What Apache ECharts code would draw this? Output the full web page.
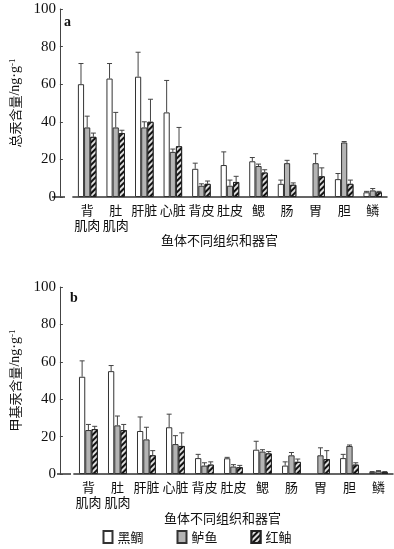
<!DOCTYPE html>
<html><head><meta charset="utf-8">
<script src="https://cdn.jsdelivr.net/npm/echarts@6/dist/echarts.min.js"></script>
<style>html,body{margin:0;padding:0;background:#fff}#c{width:394px;height:549px}</style>
</head><body><div id="c"></div>
<script>
var categories = ['背\n肌肉','肚\n肌肉','肝脏','心脏','背皮','肚皮','鳃','肠','胃','胆','鳞'];
var seriesNames = ['黑鲷','鲈鱼','红鲉'];
var yTicks = [0,20,40,60,80,100];
// Panel a: total mercury (ng/g)
var aHeidiao = [60, 63, 64, 45, 15, 17, 19, 7, null, 9.5, 2.5];
var aLuyu    = [37, 37, 37, 24, 6, 6, 16.5, 18, 18, 29, 3.5];
var aHongyou = [32, 34, 40, 27, 7, 8, 13, 6.5, 11, 7, 2.5];
var aHeidiaoErr = [11, 8, 13, 17, 3, 7, 2, 2, null, 3, 0.5];
var aLuyuErr    = [6, 8, 3, 1.5, 1, 3, 1, 1.5, 5, 0.5, 1];
var aHongyouErr = [2, 1.5, 12, 10, 1.5, 3, 1.5, 1, 4.5, 2, 0.5];
// Panel b: methylmercury (ng/g)
var bHeidiao = [52, 55, 23, 25, 8.5, 8.4, 13, 4.5, null, 8.5, 1];
var bLuyu    = [23.5, 26, 18.5, 16, 4.5, 4, 12, 10, 10, 15, 1.5];
var bHongyou = [24, 23.5, 10, 15, 5, 3.6, 11, 6.5, 8, 5, 1];
var bHeidiaoErr = [8.5, 3, 7.5, 7, 2, 0.5, 4.5, 2, null, 2, 0.3];
var bLuyuErr    = [3, 5, 6.5, 4.5, 1.5, 1, 1, 1.5, 4, 0.5, 0.3];
var bHongyouErr = [1.5, 3, 2.5, 7, 1.5, 1, 1, 1.5, 4.5, 1, 0.3];

var CAT_GAP = 0.35;
var FONT_CJK = '"Noto Sans CJK SC", sans-serif';
var FONT_NUM = '"Liberation Serif", serif';

var styles = [
  {color:'#ffffff', borderColor:'#333', borderWidth:1},
  {color:'#b4b4b4', borderColor:'#333', borderWidth:1},
  {color:'#ffffff', borderColor:'#222', borderWidth:1,
   decal:{symbol:'rect', symbolSize:1, dashArrayX:[[1,0]], dashArrayY:[2,2], rotation:-Math.PI/4, color:'#111', backgroundColor:'#ddd'}}
];

function errSeries(gi, k, vals, errs){
  var data = vals.map(function(v,i){ return (v==null||errs[i]==null)?[i,null,null]:[i,v,errs[i]]; });
  return {
    type:'custom', xAxisIndex:gi, yAxisIndex:gi, silent:true, z:5,
    data:data,
    encode:{x:0,y:1},
    renderItem:function(params, api){
      var v = api.value(1);
      if (v == null || isNaN(v)) return;
      var x = api.value(0), e = api.value(2);
      var bw = api.size([1,0])[0];
      var barW = bw*(1-CAT_GAP)/3;
      var off = (k-1)*barW;
      var p0 = api.coord([x, v]);
      var p1 = api.coord([x, v+e]);
      var cx = p0[0]+off;
      var st = {stroke:'#444', lineWidth:1};
      return {type:'group', children:[
        {type:'line', shape:{x1:cx,y1:p0[1],x2:cx,y2:p1[1]}, style:st},
        {type:'line', shape:{x1:cx-2.5,y1:p1[1],x2:cx+2.5,y2:p1[1]}, style:st}
      ]};
    }
  };
}
function barSeries(gi, k, vals){
  return {type:'bar', name:seriesNames[k], xAxisIndex:gi, yAxisIndex:gi, data:vals,
    barGap:'0%', barCategoryGap:(CAT_GAP*100)+'%', itemStyle:styles[k]};
}
function xAx(gi, padR, gap){
  return {type:'category', gridIndex:gi, data:categories,
    axisLine:{lineStyle:{color:'#333', width:1.5}}, axisTick:{show:false},
    axisLabel:{interval:0, margin:6, fontFamily:FONT_CJK, fontSize:13, color:'#111', lineHeight:15},
    name:'鱼体不同组织和器官', nameLocation:'middle', nameGap:gap,
    nameTextStyle:{fontFamily:FONT_CJK, fontSize:13, color:'#111', padding:[0,padR,0,0]}};
}
function yAx(gi, off, nm, gap){
  return {type:'value', gridIndex:gi, min:yTicks[0], max:yTicks[yTicks.length-1], interval:yTicks[1]-yTicks[0],
    offset:off, splitLine:{show:false},
    axisLine:{show:true, lineStyle:{color:'#444', width:1}},
    axisTick:{show:true, inside:true, length:3, lineStyle:{color:'#444'}},
    axisLabel:{fontFamily:FONT_NUM, fontSize:15, color:'#111', margin:4},
    name:nm, nameLocation:'middle', nameGap:gap,
    nameTextStyle:{fontFamily:FONT_CJK, fontSize:13, color:'#111',
      rich:{
        cjk:{fontFamily:FONT_CJK, fontSize:13, color:'#111'},
        unit:{fontFamily:FONT_NUM, fontSize:14, color:'#111'},
        sup:{fontSize:9, verticalAlign:'top', fontFamily:FONT_NUM, color:'#111', padding:[0,0,6,0]}}}};
}

var chart = echarts.init(document.getElementById('c'), null, {renderer:'canvas'});
chart.setOption({
  animation:false,
  title:[
    {text:'a', left:59, top:10, textStyle:{fontFamily:FONT_NUM, fontSize:14, fontWeight:'bold', color:'#111'}},
    {text:'b', left:65, top:286, textStyle:{fontFamily:FONT_NUM, fontSize:14, fontWeight:'bold', color:'#111'}}
  ],
  grid:[
    {left:65, right:7, top:9, height:188},
    {left:71, right:1, top:287, height:187}
  ],
  xAxis:[xAx(0,21,34), xAx(1,22,38)],
  yAxis:[yAx(0,13,'{cjk|总汞含量}{unit|/ng·g}{sup|-1}',34), yAx(1,14,'{cjk|甲基汞含量}{unit|/ng·g}{sup|-1}',31)],
  legend:{data:seriesNames, left:'center', top:525, icon:'rect', itemWidth:9, itemHeight:12, itemGap:33,
    padding:[5,14,5,5],
    textStyle:{fontFamily:FONT_CJK, fontSize:13, color:'#111'}},
  graphic:[
    {type:'line', shape:{x1:52,y1:197,x2:65,y2:197}, style:{stroke:'#333', lineWidth:1.5}},
    {type:'line', shape:{x1:57,y1:474,x2:71,y2:474}, style:{stroke:'#333', lineWidth:1.5}}
  ],
  series:[
    barSeries(0,0,aHeidiao), barSeries(0,1,aLuyu), barSeries(0,2,aHongyou),
    errSeries(0,0,aHeidiao,aHeidiaoErr), errSeries(0,1,aLuyu,aLuyuErr), errSeries(0,2,aHongyou,aHongyouErr),
    barSeries(1,0,bHeidiao), barSeries(1,1,bLuyu), barSeries(1,2,bHongyou),
    errSeries(1,0,bHeidiao,bHeidiaoErr), errSeries(1,1,bLuyu,bLuyuErr), errSeries(1,2,bHongyou,bHongyouErr)
  ]
});
</script></body></html>
